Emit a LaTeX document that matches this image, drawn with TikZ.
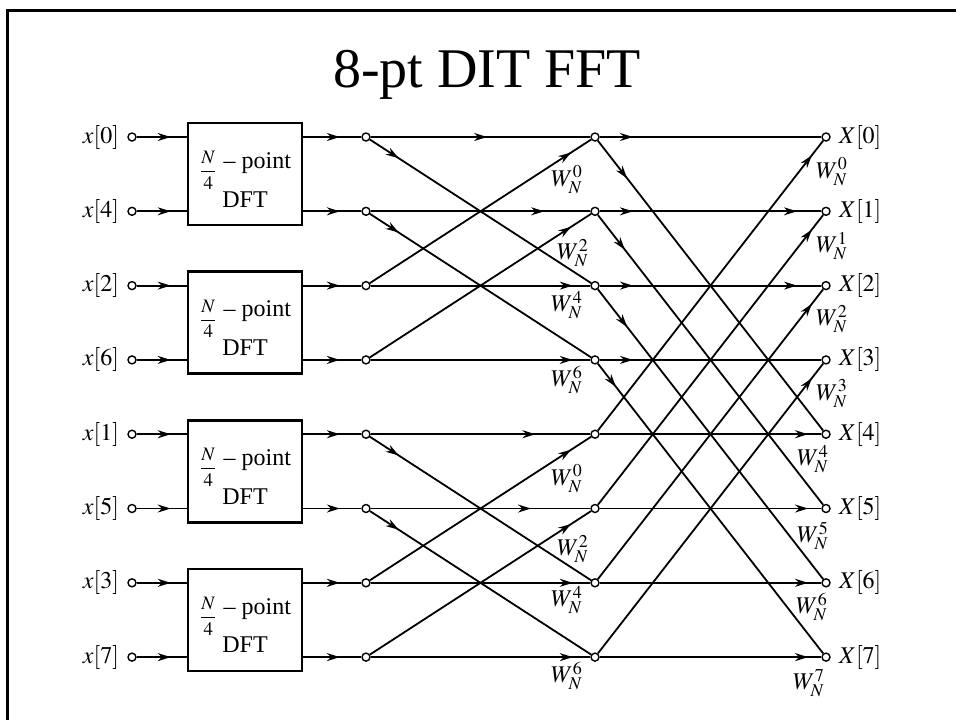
\documentclass[tikz,border=0pt]{standalone}
\usepackage{amsmath}
\usepackage{mathptmx}
\usepackage{fontspec}
\setmainfont{Liberation Serif}
\usetikzlibrary{positioning,arrows.meta,decorations.markings}
\newcommand{\quarter}{\rule{0pt}{13.5pt}\raisebox{-4pt}{\fontsize{9.5}{10}\selectfont$\dfrac{N}{4}$}}

\begin{document}
\begin{tikzpicture}[x=0.5pt,y=-0.5pt,
  font=\fontsize{12}{14}\selectfont,
  >={Stealth[length=6.5pt,width=4pt]},
  dot/.style={circle,draw,fill=white,inner sep=0pt,minimum size=4pt,line width=0.7pt},
  box/.style={draw,line width=1.3pt,minimum width=57pt,minimum height=51pt,align=center,inner sep=2pt},
  lab/.style={inner sep=1pt},
  wire/.style={line width=0.9pt},
  arr/.style={postaction={decorate,decoration={markings,mark=at position #1 with {\arrow{>}}}}},
  arr/.default=0.5]
  \useasboundingbox (0,0) rectangle (956,720);
  \draw[line width=1.5pt] (7,720) |- (956,10);
  \node[font=\fontsize{28}{30}\selectfont,anchor=base] (title) at (487,87) {8-pt DIT FFT};
  % inputs, two butterfly stages, outputs
  \node[dot] (in0) at (132,137) {};   \node[dot] (a0) at (366,137) {};   \node[dot] (b0) at (595,137) {};   \node[dot] (out0) at (826,137) {};
  \node[dot] (in1) at (132,211.3) {}; \node[dot] (a1) at (366,211.3) {}; \node[dot] (b1) at (595,211.3) {}; \node[dot] (out1) at (826,211.3) {};
  \node[dot] (in2) at (132,285.6) {}; \node[dot] (a2) at (366,285.6) {}; \node[dot] (b2) at (595,285.6) {}; \node[dot] (out2) at (826,285.6) {};
  \node[dot] (in3) at (132,359.9) {}; \node[dot] (a3) at (366,359.9) {}; \node[dot] (b3) at (595,359.9) {}; \node[dot] (out3) at (826,359.9) {};
  \node[dot] (in4) at (132,434.2) {}; \node[dot] (a4) at (366,434.2) {}; \node[dot] (b4) at (595,434.2) {}; \node[dot] (out4) at (826,434.2) {};
  \node[dot] (in5) at (132,508.5) {}; \node[dot] (a5) at (366,508.5) {}; \node[dot] (b5) at (595,508.5) {}; \node[dot] (out5) at (826,508.5) {};
  \node[dot] (in6) at (132,582.8) {}; \node[dot] (a6) at (366,582.8) {}; \node[dot] (b6) at (595,582.8) {}; \node[dot] (out6) at (826,582.8) {};
  \node[dot] (in7) at (132,657.1) {}; \node[dot] (a7) at (366,657.1) {}; \node[dot] (b7) at (595,657.1) {}; \node[dot] (out7) at (826,657.1) {};
  \node[lab,left=3pt of in0] (xl0) {$x[0]$}; \node[lab,left=3pt of in1] (xl1) {$x[4]$};
  \node[lab,left=3pt of in2] (xl2) {$x[2]$}; \node[lab,left=3pt of in3] (xl3) {$x[6]$};
  \node[lab,left=3pt of in4] (xl4) {$x[1]$}; \node[lab,left=3pt of in5] (xl5) {$x[5]$};
  \node[lab,left=3pt of in6] (xl6) {$x[3]$}; \node[lab,left=3pt of in7] (xl7) {$x[7]$};
  \node[lab,right=3pt of out0] (Xl0) {$X[0]$}; \node[lab,right=3pt of out1] (Xl1) {$X[1]$};
  \node[lab,right=3pt of out2] (Xl2) {$X[2]$}; \node[lab,right=3pt of out3] (Xl3) {$X[3]$};
  \node[lab,right=3pt of out4] (Xl4) {$X[4]$}; \node[lab,right=3pt of out5] (Xl5) {$X[5]$};
  \node[lab,right=3pt of out6] (Xl6) {$X[6]$}; \node[lab,right=3pt of out7] (Xl7) {$X[7]$};
  \node[box] (dft0) at (245,174.15) {\quarter{} -- point\\DFT};
  \node[box] (dft1) at (245,322.75) {\quarter{} -- point\\DFT};
  \node[box] (dft2) at (245,471.35) {\quarter{} -- point\\DFT};
  \node[box] (dft3) at (245,619.95) {\quarter{} -- point\\DFT};
  \draw[wire,arr=0.68] (in0) -- (in0 -| dft0.west); \draw[wire,arr=0.68] (in1) -- (in1 -| dft0.west);
  \draw[wire,arr=0.68] (in2) -- (in2 -| dft1.west); \draw[wire,arr=0.68] (in3) -- (in3 -| dft1.west);
  \draw[wire,arr=0.68] (in4) -- (in4 -| dft2.west); \draw[wire,arr=0.68] (in5) -- (in5 -| dft2.west);
  \draw[wire,arr=0.68] (in6) -- (in6 -| dft3.west); \draw[wire,arr=0.68] (in7) -- (in7 -| dft3.west);
  \draw[wire,arr=0.63] (a0 -| dft0.east) -- (a0); \draw[wire,arr=0.63] (a1 -| dft0.east) -- (a1);
  \draw[wire,arr=0.63] (a2 -| dft1.east) -- (a2); \draw[wire,arr=0.63] (a3 -| dft1.east) -- (a3);
  \draw[wire,arr=0.63] (a4 -| dft2.east) -- (a4); \draw[wire,arr=0.63] (a5 -| dft2.east) -- (a5);
  \draw[wire,arr=0.63] (a6 -| dft3.east) -- (a6); \draw[wire,arr=0.63] (a7 -| dft3.east) -- (a7);
  % first stage
  \draw[wire,arr=0.53] (a0) -- (b0); \draw[wire,arr=0.13] (a0) -- (b2);
  \draw[wire,arr=0.79] (a1) -- (b1); \draw[wire,arr=0.13] (a1) -- (b3);
  \draw[wire,arr=0.92] (a2) -- (b2); \draw[wire,arr=0.91] (a2) -- (b0);
  \draw[wire,arr=0.92] (a3) -- (b3); \draw[wire,arr=0.91] (a3) -- (b1);
  \draw[wire,arr=0.75] (a4) -- (b4); \draw[wire,arr=0.13] (a4) -- (b6);
  \draw[wire,arr=0.73] (a5) -- (b5); \draw[wire,arr=0.13] (a5) -- (b7);
  \draw[wire,arr=0.92] (a6) -- (b6); \draw[wire,arr=0.91] (a6) -- (b4);
  \draw[wire,arr=0.92] (a7) -- (b7); \draw[wire,arr=0.91] (a7) -- (b5);
  \node[lab] (wa0) at (567,180) {$W_N^0$}; \node[lab] (wa1) at (573,253) {$W_N^2$};
  \node[lab] (wa2) at (567,305) {$W_N^4$}; \node[lab] (wa3) at (567,380) {$W_N^6$};
  \node[lab] (wa4) at (567,479) {$W_N^0$}; \node[lab] (wa5) at (573,549) {$W_N^2$};
  \node[lab] (wa6) at (567,600) {$W_N^4$}; \node[lab] (wa7) at (567,676) {$W_N^6$};
  % second stage
  \draw[wire,arr=0.15] (b0) -- (out0); \draw[wire,arr=0.13] (b0) -- (out4);
  \draw[wire,arr=0.15,arr=0.89] (b1) -- (out1); \draw[wire,arr=0.12] (b1) -- (out5);
  \draw[wire,arr=0.15,arr=0.89] (b2) -- (out2); \draw[wire,arr=0.13] (b2) -- (out6);
  \draw[wire,arr=0.15] (b3) -- (out3); \draw[wire,arr=0.08] (b3) -- (out7);
  \draw[wire,arr=0.94] (b4) -- (out4); \draw[wire,arr=0.95] (b4) -- (out0);
  \draw[wire,arr=0.94] (b5) -- (out5); \draw[wire,arr=0.95] (b5) -- (out1);
  \draw[wire,arr=0.94] (b6) -- (out6); \draw[wire,arr=0.95] (b6) -- (out2);
  \draw[wire,arr=0.94] (b7) -- (out7); \draw[wire,arr=0.95] (b7) -- (out3);
  \node[lab] (wb0) at (832,172) {$W_N^0$}; \node[lab] (wb1) at (832,246) {$W_N^1$};
  \node[lab] (wb2) at (832,319) {$W_N^2$}; \node[lab] (wb3) at (832,394) {$W_N^3$};
  \node[lab] (wb4) at (813,459) {$W_N^4$}; \node[lab] (wb5) at (813,536) {$W_N^5$};
  \node[lab] (wb6) at (812,607) {$W_N^6$}; \node[lab] (wb7) at (809,683) {$W_N^7$};
\end{tikzpicture}
\end{document}
